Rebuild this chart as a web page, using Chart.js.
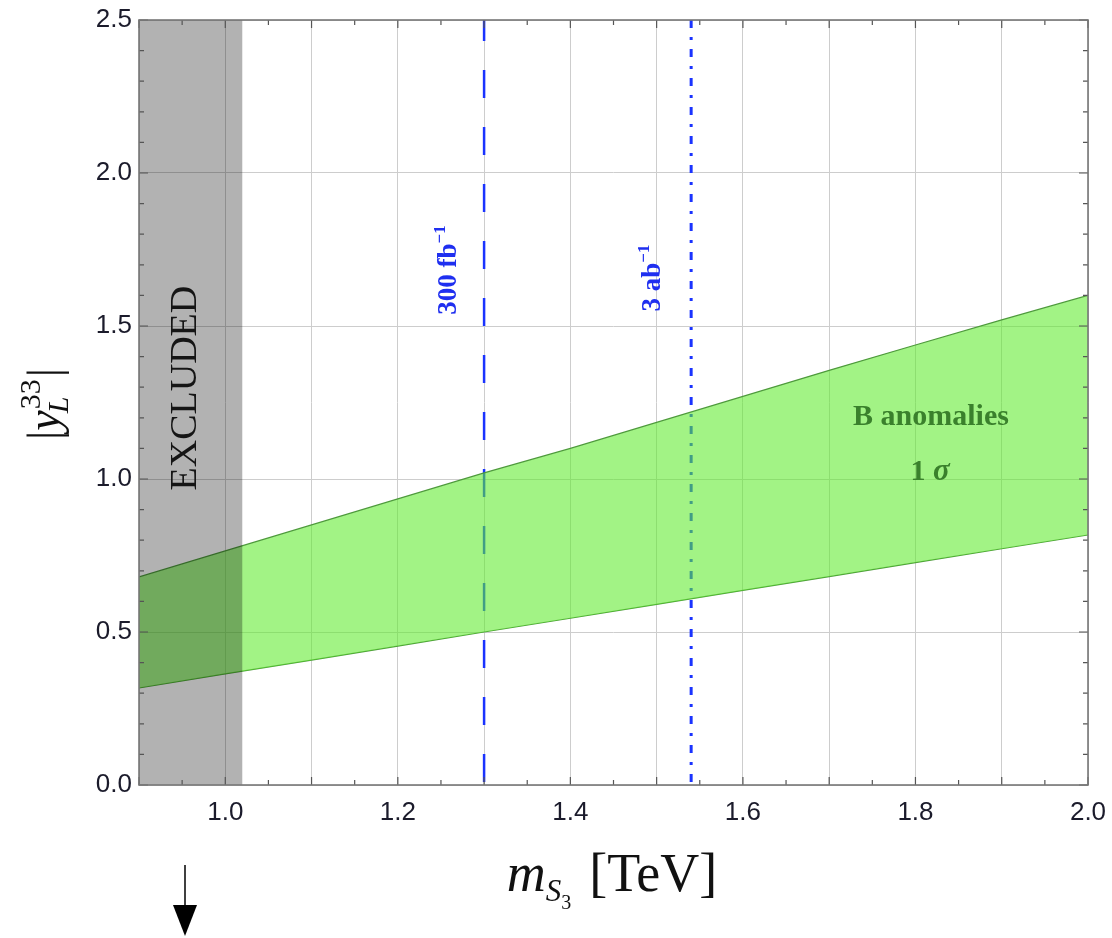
<!DOCTYPE html>
<html>
<head>
<meta charset="utf-8">
<script src="https://cdn.jsdelivr.net/npm/chart.js@4.4.1/dist/chart.umd.min.js"></script>
<style>
  html, body { margin: 0; padding: 0; background: #fff; }
  #wrap { width: 1112px; height: 938px; }
</style>
</head>
<body>
<div id="wrap"><canvas id="chart" width="1112" height="938"></canvas></div>
<script>
// S3 leptoquark: B-anomaly 1 sigma band vs LHC reach
const massTeV   = [0.9, 1.0, 1.1, 1.2, 1.3, 1.4, 1.5, 1.6, 1.7, 1.8, 1.9, 2.0];
const bandUpper = [0.68, 0.765, 0.85, 0.935, 1.02, 1.10, 1.185, 1.27, 1.355, 1.438, 1.52, 1.60];
const bandLower = [0.317, 0.363, 0.408, 0.454, 0.50, 0.545, 0.59, 0.636, 0.681, 0.727, 0.772, 0.817];
const excludedMax = 1.02;
const reach300fb = 1.3;
const reach3ab = 1.54;
const xTickLabels = ['1.0', '1.2', '1.4', '1.6', '1.8', '2.0'];
const yTickLabels = ['0.0', '0.5', '1.0', '1.5', '2.0', '2.5'];

const SERIF = '"Liberation Serif", "DejaVu Serif", serif';
const SANS = '"Liberation Sans", Arial, sans-serif';

const isMult = (v, step) => Math.abs(v / step - Math.round(v / step)) < 1e-6;

// draw a row of text pieces (with sub/superscripts), centred on cx, cy
function richText(ctx, parts, cx, cy, rot, base) {
  ctx.save();
  ctx.translate(cx, cy);
  ctx.rotate(rot);
  const widths = parts.map(p => { ctx.font = p.f; return ctx.measureText(p.t).width; });
  let held = 0;
  const adv = parts.map((p, i) => {
    if (p.stack) { held = widths[i]; return 0; }
    const a = Math.max(widths[i], held) + (p.gap || 0);
    held = 0;
    return a;
  });
  const total = adv.reduce((a, b) => a + b, 0);
  let x = -total / 2;
  ctx.textAlign = 'left';
  ctx.textBaseline = 'alphabetic';
  parts.forEach((p, i) => {
    ctx.font = p.f;
    ctx.fillStyle = p.c;
    ctx.fillText(p.t, x + (p.dx || 0), base + (p.dy || 0));
    x += adv[i];
  });
  ctx.restore();
}

const framePlugin = {
  id: 'frame',
  afterDatasetsDraw(chart) {
    const { ctx, chartArea: a, scales: { x, y } } = chart;
    ctx.save();
    ctx.strokeStyle = '#555';
    ctx.lineWidth = 1.2;
    // inward ticks on all four sides
    x.ticks.forEach(t => {
      const px = x.getPixelForValue(t.value);
      const len = isMult(t.value, 0.1) ? 8 : 5;
      ctx.beginPath();
      ctx.moveTo(px, a.bottom); ctx.lineTo(px, a.bottom - len);
      ctx.moveTo(px, a.top); ctx.lineTo(px, a.top + len);
      ctx.stroke();
    });
    y.ticks.forEach(t => {
      const py = y.getPixelForValue(t.value);
      const len = isMult(t.value, 0.5) ? 9 : 5;
      ctx.beginPath();
      ctx.moveTo(a.left, py); ctx.lineTo(a.left + len, py);
      ctx.moveTo(a.right, py); ctx.lineTo(a.right - len, py);
      ctx.stroke();
    });
    ctx.strokeStyle = '#777';
    ctx.lineWidth = 1.6;
    ctx.strokeRect(a.left, a.top, a.right - a.left, a.bottom - a.top);
    ctx.restore();
  },
  afterDraw(chart) {
    const { ctx, scales: { x, y } } = chart;
    const up = -Math.PI / 2;

    richText(ctx, [{ t: 'EXCLUDED', f: '38px ' + SERIF, c: '#151515' }],
      x.getPixelForValue(0.951), y.getPixelForValue(1.297), up, 13);

    richText(ctx, [
      { t: '300 fb', f: 'bold 27px ' + SERIF, c: '#1f2ff0' },
      { t: '\u22121', f: 'bold 17px ' + SERIF, c: '#1f2ff0', dy: -11 }
    ], x.getPixelForValue(1.257), y.getPixelForValue(1.683), up, 9);

    richText(ctx, [
      { t: '3 ab', f: 'bold 27px ' + SERIF, c: '#1f2ff0' },
      { t: '\u22121', f: 'bold 17px ' + SERIF, c: '#1f2ff0', dy: -11 }
    ], x.getPixelForValue(1.4935), y.getPixelForValue(1.657), up, 9);

    richText(ctx, [{ t: 'B anomalies', f: 'bold 30px ' + SERIF, c: '#3a802c' }],
      x.getPixelForValue(1.818), y.getPixelForValue(1.209), 0, 10);

    richText(ctx, [
      { t: '1 ', f: 'bold 30px ' + SERIF, c: '#3a802c' },
      { t: '\u03c3', f: 'italic bold 31px ' + SERIF, c: '#3a802c' }
    ], x.getPixelForValue(1.817), y.getPixelForValue(1.026), 0, 9);

    // y axis title |y_L^33|
    richText(ctx, [
      { t: '|', f: '46px ' + SERIF, c: '#111' },
      { t: 'y', f: 'italic 46px ' + SERIF, c: '#111', gap: 1 },
      { t: '33', f: '30px ' + SERIF, c: '#111', dy: -19, stack: true },
      { t: 'L', f: 'italic 30px ' + SERIF, c: '#111', dy: 9, dx: -4, gap: 2 },
      { t: '|', f: '46px ' + SERIF, c: '#111' }
    ], 45, 404, up, 14);

    // x axis title m_S3 [TeV]
    richText(ctx, [
      { t: 'm', f: 'italic 54px ' + SERIF, c: '#111' },
      { t: 'S', f: 'italic 31px ' + SERIF, c: '#111', dy: 10 },
      { t: '3', f: '20px ' + SERIF, c: '#111', dy: 18, gap: 18 },
      { t: '[TeV]', f: '54px ' + SERIF, c: '#111' }
    ], 612, 891, 0, 0);

    // arrow below the axis
    ctx.save();
    ctx.strokeStyle = '#000';
    ctx.fillStyle = '#000';
    ctx.lineWidth = 1.5;
    ctx.beginPath();
    ctx.moveTo(185, 865); ctx.lineTo(185, 908);
    ctx.stroke();
    ctx.beginPath();
    ctx.moveTo(173, 905); ctx.lineTo(197, 905); ctx.lineTo(185, 936);
    ctx.closePath();
    ctx.fill();
    ctx.restore();
  }
};

const vline = (xv) => [{ x: xv, y: 2.5 }, { x: xv, y: 0 }];

new Chart(document.getElementById('chart'), {
  type: 'line',
  data: {
    datasets: [
      {
        label: 'excluded',
        data: [{ x: 0.9, y: 2.5 }, { x: excludedMax, y: 2.5 }],
        fill: 'origin',
        backgroundColor: 'rgba(0,0,0,0.30)',
        borderWidth: 0,
        pointRadius: 0
      },
      {
        label: 'upper',
        data: massTeV.map((m, i) => ({ x: m, y: bandUpper[i] })),
        fill: '+1',
        backgroundColor: 'rgba(95,235,45,0.58)',
        borderColor: '#4e9a3c',
        borderWidth: 1.2,
        pointRadius: 0
      },
      {
        label: 'lower',
        data: massTeV.map((m, i) => ({ x: m, y: bandLower[i] })),
        fill: false,
        borderColor: '#4e9a3c',
        borderWidth: 1.2,
        pointRadius: 0
      },
      {
        label: '300 fb-1',
        data: vline(reach300fb),
        borderColor: '#1a33ff',
        borderWidth: 2.5,
        borderDash: [28, 29],
        borderDashOffset: 7,
        pointRadius: 0,
        fill: false
      },
      {
        label: '3 ab-1',
        data: vline(reach3ab),
        borderColor: '#1a33ff',
        borderWidth: 3,
        borderDash: [8, 9, 3, 9],
        pointRadius: 0,
        fill: false
      }
    ]
  },
  options: {
    responsive: false,
    animation: false,
    devicePixelRatio: 1,
    layout: { padding: { top: 20, right: 24, left: 0, bottom: 0 } },
    plugins: { legend: { display: false }, tooltip: { enabled: false } },
    scales: {
      x: {
        type: 'linear',
        min: 0.9,
        max: 2.0,
        afterFit: s => { s.height = 153; s.paddingLeft = 0; s.paddingRight = 0; },
        border: { display: false },
        grid: {
          drawTicks: false,
          lineWidth: 1,
          color: c => (c.tick && isMult(c.tick.value, 0.1)) ? '#cdcdcd' : 'rgba(0,0,0,0)'
        },
        ticks: {
          stepSize: 0.05,
          autoSkip: false,
          maxRotation: 0,
          padding: 12,
          color: '#1b1b2b',
          font: { family: SANS, size: 26 },
          callback: v => {
            const s = Number(v).toFixed(1);
            return (isMult(v, 0.1) && xTickLabels.includes(s)) ? s : '';
          }
        }
      },
      y: {
        type: 'linear',
        min: 0,
        max: 2.5,
        afterFit: s => { s.width = 139; s.paddingTop = 0; s.paddingBottom = 0; },
        border: { display: false },
        grid: {
          drawTicks: false,
          lineWidth: 1,
          color: c => (c.tick && isMult(c.tick.value, 0.5)) ? '#cdcdcd' : 'rgba(0,0,0,0)'
        },
        ticks: {
          stepSize: 0.1,
          autoSkip: false,
          padding: 7,
          color: '#1b1b2b',
          font: { family: SANS, size: 26 },
          callback: v => {
            const s = Number(v).toFixed(1);
            return (isMult(v, 0.5) && yTickLabels.includes(s)) ? s : '';
          }
        }
      }
    }
  },
  plugins: [framePlugin]
});
</script>
</body>
</html>
